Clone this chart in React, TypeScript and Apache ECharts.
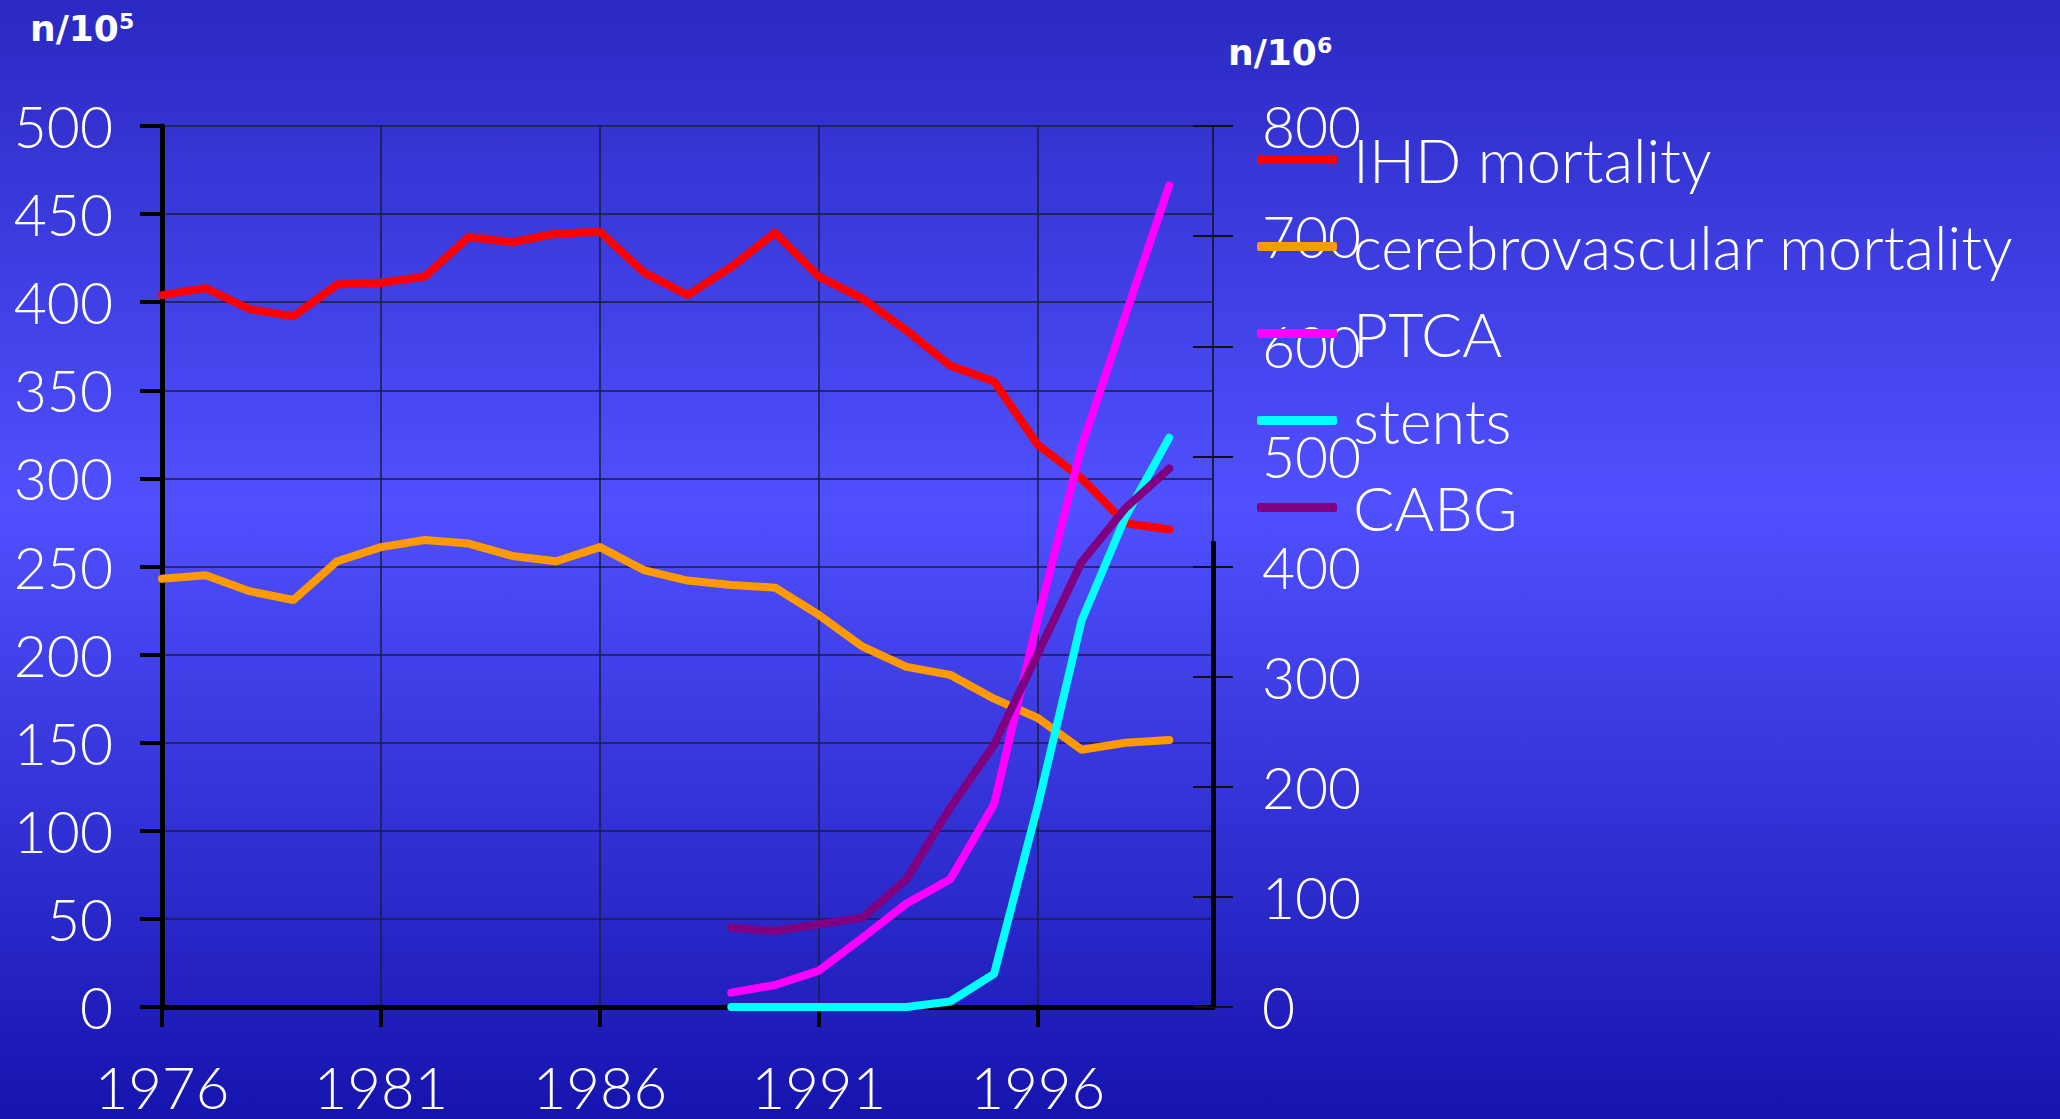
import React, { useEffect, useRef } from "react";
import * as echarts from "echarts";

const years = ["1976","1977","1978","1979","1980","1981","1982","1983","1984","1985","1986","1987","1988","1989","1990","1991","1992","1993","1994","1995","1996","1997","1998","1999","2000"];
const ihdMortality = [404,408,396,392,410,411,414.5,437,434,439,440,417,404,420,439.4,414.5,402,384,364,355,319,300,274.5,271];
const cerebroMortality = [243,245,236,231,253,261,265,263,256,253,261,248,242,239.5,238,222.5,204.5,193,188.5,175,164,146,150,151.5];
const procStartYear = "1989";
const ptca = [13,20,33,63,94,116,184,352,509,628,746];
const stents = [0,0,0,0,0,5,30,183,351,445,517];
const cabg = [72,69,75,81,116,181,238,321,404,453,489];
const leftTicks = { min: 0, max: 500, interval: 50 };
const rightTicks = { min: 0, max: 800, interval: 100 };
const rightAxisSegment = [0, 423];

const seriesNames = ["IHD mortality", "cerebrovascular mortality", "PTCA", "stents", "CABG"];
const seriesColors = ["#ff0000", "#ff9900", "#ff00ff", "#00ffff", "#800080"];

function fullSeries(values: number[], startYear: string) {
  const start = years.indexOf(startYear);
  return years.map((_, i) => {
    const k = i - start;
    return k >= 0 && k < values.length ? values[k] : null;
  });
}

export default function App() {
  const ref = useRef<HTMLDivElement>(null);
  useEffect(() => {
    document.body.style.margin = "0";
    if (!ref.current) return;
    const chart = echarts.init(ref.current, null, { renderer: "svg" });
    const labelFont = "Lato, 'Open Sans', sans-serif";
    const gridColor = "rgba(30,30,70,0.8)";
    const lineStyle = (c: string) => ({ color: c, width: 8, cap: "round" as const, join: "round" as const });
    const titleStyle = {
      color: "#fff", fontFamily: "'DejaVu Sans', sans-serif", fontWeight: "bold", fontSize: 36,
      rich: { s: { color: "#fff", fontFamily: "'DejaVu Sans', sans-serif", fontWeight: "bold", fontSize: 22, verticalAlign: "top", lineHeight: 22, padding: [0, 0, 10, 0] } },
    };
    const option: any = {
      animation: false,
      backgroundColor: {
        type: "linear", x: 0, y: 0, x2: 0, y2: 1,
        colorStops: [
          { offset: 0, color: "#2a29c2" },
          { offset: 0.45, color: "#5050ff" },
          { offset: 1, color: "#1614ae" },
        ],
      },
      title: [
        { text: "n/10{s|5}", left: 30, top: 10, padding: 0, textStyle: titleStyle },
        { text: "n/10{s|6}", left: 1228, top: 34, padding: 0, textStyle: titleStyle },
      ],
      legend: {
        orient: "vertical", left: 1257, top: 129, padding: 0,
        itemWidth: 80, itemHeight: 9, itemGap: 26, icon: "roundRect",
        data: seriesNames,
        textStyle: { color: "#fff", fontFamily: labelFont, fontWeight: 300, fontSize: 61, lineHeight: 60, padding: [0, 0, 0, 11] },
      },
      grid: { left: 162, right: 847, top: 126, bottom: 112, containLabel: false },
      xAxis: [
        {
          type: "category", data: years, boundaryGap: false, position: "bottom",
          axisLine: { lineStyle: { color: "#000", width: 5 } },
          axisTick: { show: true, interval: 4, length: 20, lineStyle: { color: "#000", width: 4 } },
          axisLabel: { interval: 4, margin: 50, color: "#fff", fontFamily: labelFont, fontWeight: 300, fontSize: 58, lineHeight: 58 },
          splitLine: { show: true, interval: 4, lineStyle: { color: gridColor, width: 2 } },
        },
        {
          type: "category", data: years, boundaryGap: false, position: "top",
          axisLine: { lineStyle: { color: "#000", width: 4 } },
          axisTick: { show: false }, axisLabel: { show: false }, splitLine: { show: false },
        },
      ],
      yAxis: [
        {
          type: "value", position: "left", ...leftTicks,
          axisLine: { show: true, lineStyle: { color: "#000", width: 5 } },
          axisTick: { show: true, length: 22, lineStyle: { color: "#000", width: 4 } },
          axisLabel: { margin: 49, color: "#fff", fontFamily: labelFont, fontWeight: 300, fontSize: 57 },
          splitLine: { show: true, lineStyle: { color: gridColor, width: 2 } },
        },
        {
          type: "value", position: "right", ...rightTicks,
          axisLine: { show: true, lineStyle: { color: "#1a1a50", width: 2 } },
          axisTick: { show: true, inside: false, length: 20, lineStyle: { color: "#111", width: 2 } },
          axisLabel: { margin: 49, color: "#fff", fontFamily: labelFont, fontWeight: 300, fontSize: 57 },
          splitLine: { show: false },
        },
        {
          type: "value", position: "right", ...rightTicks,
          axisLine: { show: false },
          axisTick: { show: true, inside: true, length: 20, lineStyle: { color: "#111", width: 2 } },
          axisLabel: { show: false },
          splitLine: { show: false },
        },
      ],
      series: [
        { name: seriesNames[0], type: "line", yAxisIndex: 0, data: fullSeries(ihdMortality, years[0]), showSymbol: false, symbol: "none", color: seriesColors[0], lineStyle: lineStyle(seriesColors[0]) },
        { name: seriesNames[1], type: "line", yAxisIndex: 0, data: fullSeries(cerebroMortality, years[0]), showSymbol: false, symbol: "none", color: seriesColors[1], lineStyle: lineStyle(seriesColors[1]) },
        { name: seriesNames[2], type: "line", yAxisIndex: 1, data: fullSeries(ptca, procStartYear), showSymbol: false, symbol: "none", color: seriesColors[2], lineStyle: lineStyle(seriesColors[2]) },
        {
          name: seriesNames[3], type: "line", yAxisIndex: 1, data: fullSeries(stents, procStartYear), showSymbol: false, symbol: "none", color: seriesColors[3], lineStyle: lineStyle(seriesColors[3]),
          markLine: {
            silent: true, symbol: ["none", "none"], label: { show: false },
            lineStyle: { color: "#000", width: 5, type: "solid" },
            data: [[{ coord: [years[years.length - 1], rightAxisSegment[0]] }, { coord: [years[years.length - 1], rightAxisSegment[1]] }]],
          },
        },
        { name: seriesNames[4], type: "line", yAxisIndex: 1, data: fullSeries(cabg, procStartYear), showSymbol: false, symbol: "none", color: seriesColors[4], lineStyle: lineStyle(seriesColors[4]) },
      ],
    };
    chart.setOption(option);
    return () => chart.dispose();
  }, []);
  return <div ref={ref} style={{ width: 2060, height: 1119 }} />;
}
